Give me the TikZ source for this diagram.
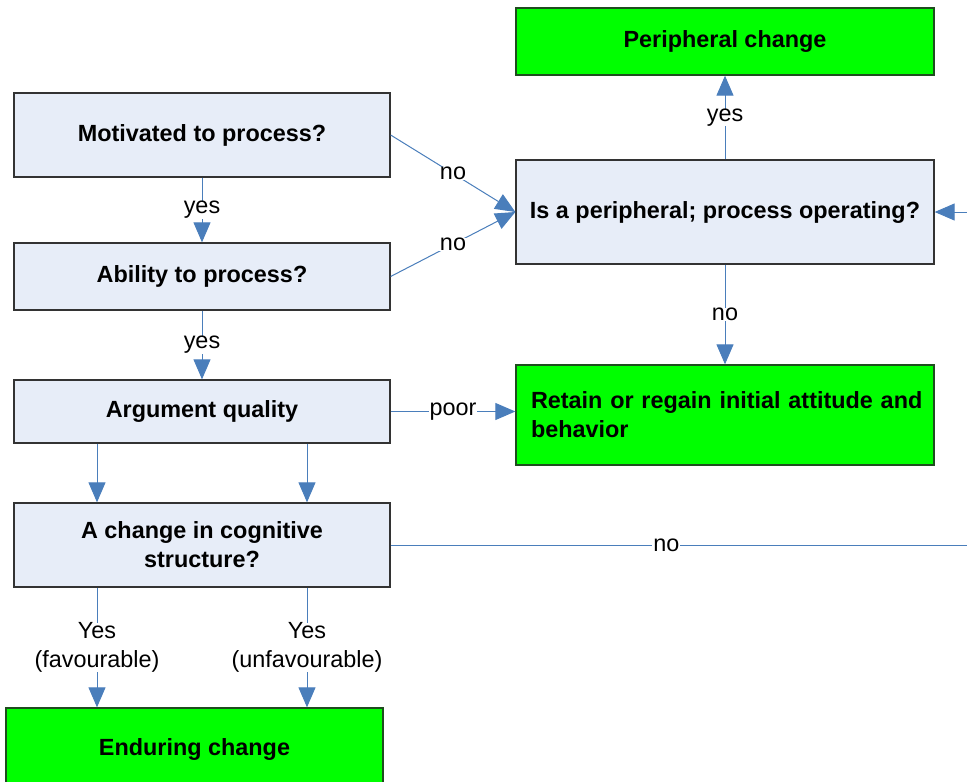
\documentclass[tikz,border=0pt]{standalone}
\usepackage{fontspec}
\setmainfont{Liberation Sans}
\usetikzlibrary{arrows.meta}
\definecolor{ink}{HTML}{000000}
\definecolor{askfill}{HTML}{E7EDF8}
\definecolor{askline}{HTML}{333333}
\definecolor{endfill}{HTML}{00FF00}
\definecolor{endline}{HTML}{1E4D1E}
\definecolor{wire}{HTML}{4A7EBB}
\newcommand{\tsize}{\fontsize{23.4}{29}\selectfont}
\tikzset{
 every node/.append style={font=\tsize,text=ink,align=center},
 ask/.style={draw=askline,fill=askfill,line width=1.3pt,inner sep=4pt,font=\tsize\bfseries},
 leftask/.style={ask,minimum width=376pt},
 rightask/.style={ask,minimum width=418pt},
 outcome/.style={ask,draw=endline,fill=endfill},
 tag/.style={fill=white,inner xsep=1pt,inner ysep=0pt},
 wire/.style={draw=wire,line width=1pt},
 flow/.style={wire,-{Triangle[length=20pt,width=17pt]}},
}

\begin{document}
\begin{tikzpicture}[x=1pt,y=-1pt]

\useasboundingbox (0,0) rectangle (967,782);
\node[leftask,minimum height=84pt] (motiv) at (202,135) {Motivated to process?};
\node[leftask,minimum height=67pt] (ability) at (202,276.5) {Ability to process?};
\node[leftask,minimum height=63pt] (argument) at (202,411.5) {Argument quality};
\node[leftask,minimum height=84pt] (change) at (202,545) {A change in cognitive\\structure?};
\node[outcome,minimum width=377pt,minimum height=82pt] (enduring) at (194.5,749) {Enduring change};
\node[outcome,minimum width=418pt,minimum height=67pt] (perichange) at (725,41.5) {Peripheral change};
\node[rightask,minimum height=104pt] (periq) at (725,212) {Is a peripheral; process operating?};
\node[outcome,text width=388pt,inner xsep=15pt,minimum height=100pt,align=left] (retain) at (725,415) {\mbox{Retain or regain initial attitude and}\\behavior};
\coordinate (fav) at (97,0);
\coordinate (unfav) at (307,0);
\coordinate (loop) at (990,545);
\draw[flow] (motiv) -- node[tag]{yes} (ability);
\draw[flow] (ability) -- node[tag]{yes} (argument);
\draw[flow] (motiv.east) -- node[tag]{no} (periq.west);
\draw[flow] (ability.east) -- node[tag]{no} (periq.west);
\draw[flow] (argument.east) -- node[tag]{poor} (argument.east -| retain.west);
\draw[flow] (periq) -- node[tag]{yes} (perichange);
\draw[flow] (periq) -- node[tag]{no} (retain);
\draw[flow] (argument.south -| fav) -- (change.north -| fav);
\draw[flow] (argument.south -| unfav) -- (change.north -| unfav);
\draw[flow] (change.south -| fav) -- node[tag]{Yes\\(favourable)} (enduring.north -| fav);
\draw[flow] (change.south -| unfav) -- node[tag]{Yes\\(unfavourable)} (enduring.north -| unfav);
\begin{scope}
\clip (0,0) rectangle (967,782);
\draw[flow] (change.east) -- node[tag,pos=.46]{no} (loop) |- (periq.east);
\end{scope}

\end{tikzpicture}
\end{document}
